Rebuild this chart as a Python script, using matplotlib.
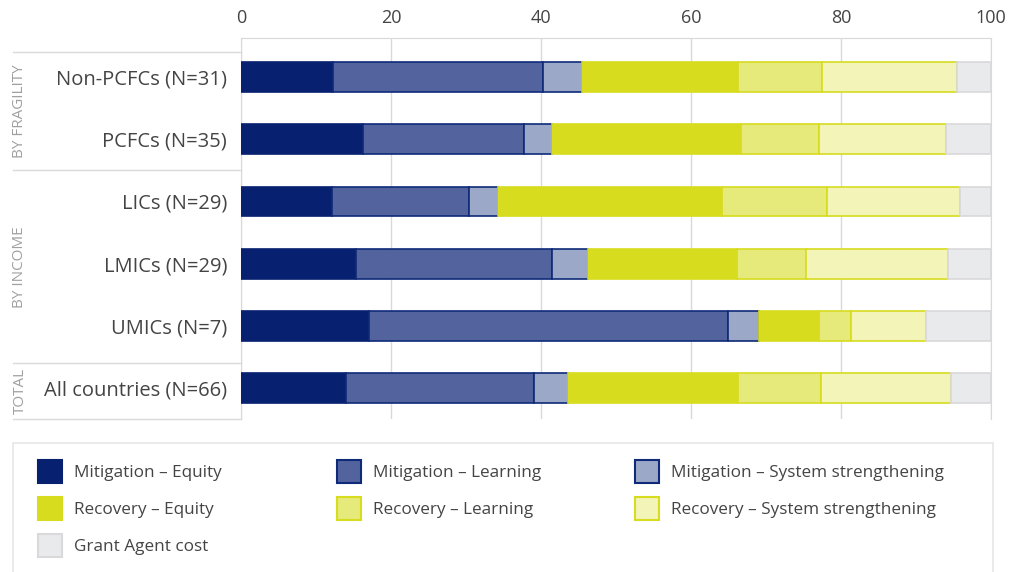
import matplotlib
matplotlib.use('Agg')
import matplotlib.pyplot as plt
import matplotlib.transforms as mtransforms
from matplotlib.patches import Rectangle
import numpy as np

plt.rcParams['font.family'] = ['Open Sans', 'DejaVu Sans']

# Data (percent of allocation)
categories = ['Non-PCFCs (N=31)', 'PCFCs (N=35)', 'LICs (N=29)',
              'LMICs (N=29)', 'UMICs (N=7)', 'All countries (N=66)']
series_names = ['Mitigation – Equity', 'Mitigation – Learning',
                'Mitigation – System strengthening', 'Recovery – Equity',
                'Recovery – Learning', 'Recovery – System strengthening',
                'Grant Agent cost']
mit_equity = [12.2, 16.2, 12.1, 15.3, 17.1, 14.0]
mit_learning = [28.0, 21.5, 18.3, 26.2, 47.8, 25.1]
mit_system = [5.3, 3.7, 3.9, 4.7, 4.2, 4.5]
rec_equity = [20.8, 25.2, 29.9, 19.9, 8.0, 22.6]
rec_learning = [11.2, 10.4, 14.0, 9.3, 4.2, 11.1]
rec_system = [17.9, 17.0, 17.7, 18.9, 10.0, 17.3]
grant_agent = [4.6, 6.0, 4.1, 5.7, 8.7, 5.4]

groups = ['BY FRAGILITY', 'BY INCOME', 'TOTAL']

face_colors = ['#072170', '#52639e', '#9ca8c8', '#d7dc1f', '#e5ea7a', '#f3f4b8', '#e9eaec']
edge_colors = ['#072170', '#0e2a78', '#0e2a78', '#d7dc1f', '#d7dc1f', '#d7dc1f', '#d9d9dc']

text_color = '#444444'
grid_color = '#d9d9d9'

fig = plt.figure(figsize=(10.13, 5.72), dpi=100)
W, H = 1013, 572
ax = fig.add_axes([241 / W, 1 - 419 / H, 750 / W, 381 / H])

all_series = [mit_equity, mit_learning, mit_system, rec_equity,
              rec_learning, rec_system, grant_agent]
y = np.arange(len(categories))
left = np.zeros(len(categories))
for vals, fc, ec, name in zip(all_series, face_colors, edge_colors, series_names):
    ax.barh(y, vals, left=left, height=0.48, color=fc, edgecolor=ec,
            linewidth=1.2, label=name, zorder=3)
    left += np.array(vals)

ax.set_xlim(0, 100)
ax.set_ylim(5.5, -0.63)
ax.xaxis.tick_top()
ax.set_xticks([0, 20, 40, 60, 80, 100])
ax.tick_params(axis='x', length=0, pad=8, labelsize=13, labelcolor=text_color)
ax.set_yticks(y)
ax.set_yticklabels(categories)
ax.tick_params(axis='y', length=0, pad=10, labelsize=14.5, labelcolor=text_color)
ax.grid(axis='x', color=grid_color, linewidth=1, zorder=0)
for side in ['top', 'right', 'left']:
    ax.spines[side].set_color(grid_color)
ax.spines['bottom'].set_visible(False)

# group separators and labels on the left
trans = mtransforms.blended_transform_factory(ax.transAxes, ax.transData)
x_sep = (13 - 241) / 750
for yy in [-0.4, 1.5, 4.6, 5.5]:
    ax.plot([x_sep, 0], [yy, yy], color=grid_color, linewidth=1,
            transform=trans, clip_on=False)
bounds = [(-0.4, 1.5), (1.5, 4.6), (4.6, 5.5)]
for g, (b0, b1) in zip(groups, bounds):
    ax.text((20 - 241) / 750, (b0 + b1) / 2, g, transform=trans, rotation=90,
            ha='center', va='center', fontsize=11, color='#a0a0a0')

# legend drawn in pixel coordinates
lax = fig.add_axes([0, 0, 1, 1], zorder=-1)
lax.set_xlim(0, W)
lax.set_ylim(H, 0)
lax.axis('off')
lax.add_patch(Rectangle((13, 443), 980, 140, facecolor='white',
                        edgecolor='#e6e6e6', linewidth=1.2))
col_x = [38, 337, 635]
row_y = [471, 508, 545]
order = [(0, 0), (0, 1), (0, 2), (1, 0), (1, 1), (1, 2), (2, 0)]
for i, (r, c) in enumerate(order):
    px, py = col_x[c], row_y[r]
    lax.add_patch(Rectangle((px, py - 11.5), 24, 23, facecolor=face_colors[i],
                            edgecolor=edge_colors[i], linewidth=1.5))
    lax.text(px + 36, py + 2, series_names[i], ha='left', va='center',
             fontsize=12.3, color=text_color)

fig.savefig('out.png', dpi=100)
